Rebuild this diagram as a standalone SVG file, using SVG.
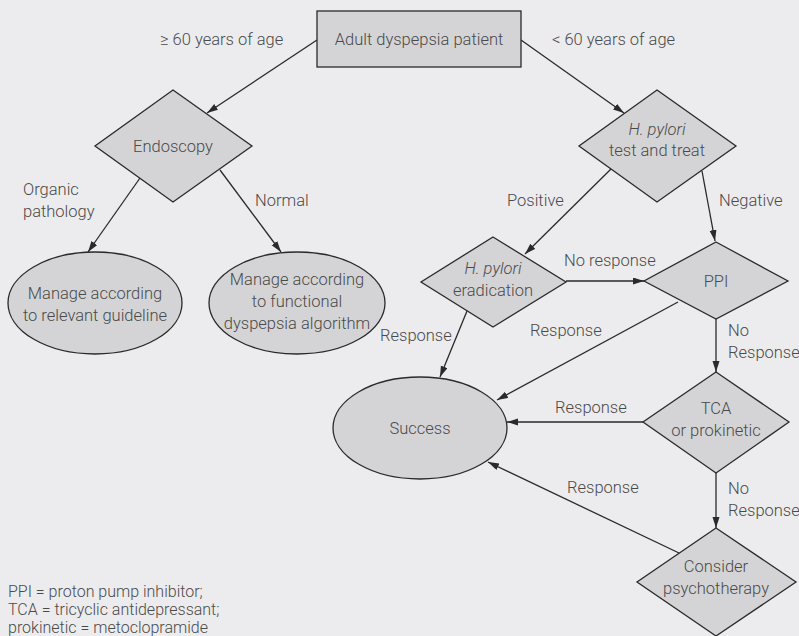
<svg xmlns="http://www.w3.org/2000/svg" width="799" height="636" viewBox="0 0 799 636">
<defs>
<style>
.n{fill:#d4d4d6;stroke:#2a2a2a;stroke-width:1.3}
.t{font-family:Roboto,"Liberation Sans",sans-serif;font-weight:300;font-size:16.5px;fill:#4a4a4a;text-anchor:middle;dominant-baseline:central}
.l{font-family:Roboto,"Liberation Sans",sans-serif;font-weight:300;font-size:16.5px;fill:#4a4a4a;dominant-baseline:central}
.f{font-family:Roboto,"Liberation Sans",sans-serif;font-weight:300;font-size:16px;fill:#4a4a4a;dominant-baseline:central}
.e{stroke:#2a2a2a;stroke-width:1.3;fill:none;marker-end:url(#a)}
</style>
<marker id="a" markerUnits="userSpaceOnUse" markerWidth="12" markerHeight="8" refX="11" refY="3.5" orient="auto">
<path d="M0,0 L11,3.5 L0,7 z" fill="#2a2a2a"/>
</marker>
</defs>
<rect width="799" height="636" fill="#ececee"/>
<g id="connectors">
<line class="e" x1="317" y1="40" x2="207" y2="113"/>
<line class="e" x1="521" y1="40" x2="624" y2="113"/>
<line class="e" x1="140" y1="178" x2="88" y2="252"/>
<line class="e" x1="220" y1="170" x2="281" y2="252"/>
<line class="e" x1="611" y1="169" x2="525" y2="254"/>
<line class="e" x1="702" y1="171" x2="715" y2="241"/>
<line class="e" x1="566" y1="281" x2="644" y2="281"/>
<line class="e" x1="467" y1="311" x2="440" y2="377"/>
<line class="e" x1="678" y1="302" x2="497" y2="400"/>
<line class="e" x1="716" y1="319" x2="716" y2="372"/>
<line class="e" x1="643" y1="422" x2="507" y2="422"/>
<line class="e" x1="716" y1="473" x2="716" y2="528"/>
<line class="e" x1="679" y1="553" x2="488" y2="462"/>
<text class="l" x="160" y="39">≥ 60 years of age</text>
<text class="l" x="552" y="39">&lt; 60 years of age</text>
<text class="l" x="23" y="189">Organic</text>
<text class="l" x="23" y="211">pathology</text>
<text class="l" x="255" y="200">Normal</text>
<text class="l" x="507" y="200">Positive</text>
<text class="l" x="719" y="200">Negative</text>
<text class="l" x="564" y="260">No response</text>
<text class="l" x="380" y="335">Response</text>
<text class="l" x="530" y="330">Response</text>
<text class="l" x="728" y="330">No</text>
<text class="l" x="728" y="352">Response</text>
<text class="l" x="555" y="407">Response</text>
<text class="l" x="728" y="488">No</text>
<text class="l" x="728" y="510">Response</text>
<text class="l" x="567" y="487">Response</text>
</g>
<g id="start">
<rect class="n" x="317" y="11" width="204" height="56"/>
<text class="t" x="419" y="39">Adult dyspepsia patient</text>
</g>
<g id="endoscopy">
<polygon class="n" points="173,90 252,146 173,202 95,146"/>
<text class="t" x="173" y="146">Endoscopy</text>
</g>
<g id="hp-test">
<polygon class="n" points="657,90 736,146 657,202 579,146"/>
<text class="t" x="657" y="129" font-style="italic">H. pylori</text>
<text class="t" x="657" y="150">test and treat</text>
</g>
<g id="guideline">
<ellipse class="n" cx="95" cy="303" rx="87" ry="51"/>
<text class="t" x="95" y="293">Manage according</text>
<text class="t" x="95" y="315">to relevant guideline</text>
</g>
<g id="functional">
<ellipse class="n" cx="297" cy="303" rx="88" ry="51"/>
<text class="t" x="297" y="279">Manage according</text>
<text class="t" x="297" y="301">to functional</text>
<text class="t" x="297" y="323">dyspepsia algorithm</text>
</g>
<g id="eradication">
<polygon class="n" points="493,237 566,282 493,327 421,282"/>
<text class="t" x="493" y="268" font-style="italic">H. pylori</text>
<text class="t" x="493" y="290">eradication</text>
</g>
<g id="ppi">
<polygon class="n" points="716,242 788,281 716,319 644,281"/>
<text class="t" x="716" y="281">PPI</text>
</g>
<g id="success">
<ellipse class="n" cx="420" cy="428" rx="87" ry="51"/>
<text class="t" x="420" y="428">Success</text>
</g>
<g id="tca">
<polygon class="n" points="716,372 789,422 716,473 643,422"/>
<text class="t" x="716" y="408">TCA</text>
<text class="t" x="716" y="430">or prokinetic</text>
</g>
<g id="psycho">
<polygon class="n" points="716,528 796,582 716,636 637,582"/>
<text class="t" x="716" y="566">Consider</text>
<text class="t" x="716" y="588">psychotherapy</text>
</g>
<g id="footnote">
<text class="f" x="8" y="591">PPI = proton pump inhibitor;</text>
<text class="f" x="8" y="609">TCA = tricyclic antidepressant;</text>
<text class="f" x="8" y="627">prokinetic = metoclopramide</text>
</g>
</svg>
